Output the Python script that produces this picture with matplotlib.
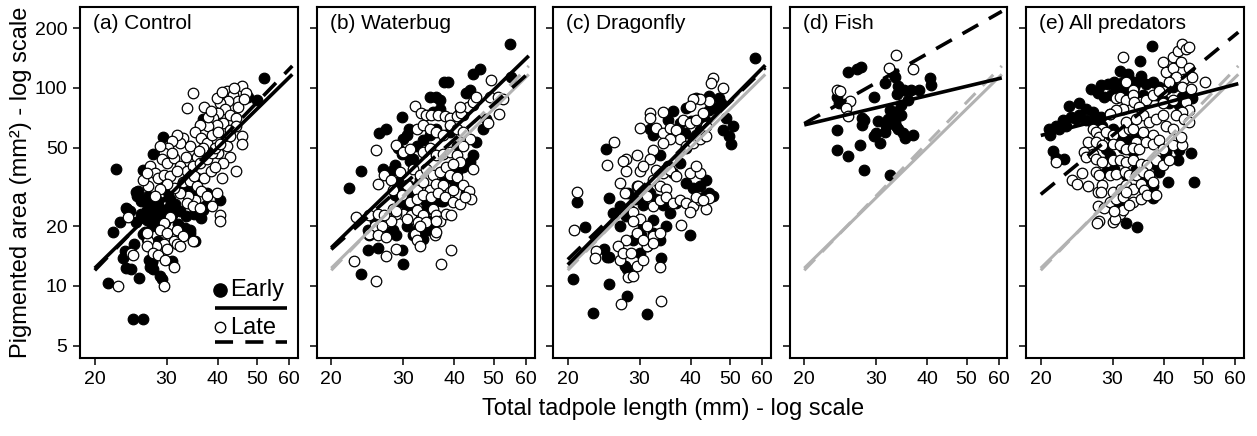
import numpy as np
import matplotlib
matplotlib.use("Agg")
import matplotlib.pyplot as plt
from matplotlib.ticker import NullLocator

plt.rcParams['font.family'] = ['Liberation Sans', 'DejaVu Sans']

# ---- data: (total length mm, pigmented area mm2) ----
control_early = [(22.6,39),(22.2,18.7),(21.5,10.3),(24.8,6.8),(26.3,6.8),(23.1,21),(24,24.5),(25.3,29.7),(26,27),
    (26.2,38.7),(27.8,46.5),(29.4,56.6),(36.9,70),(24,14.9),(23.9,12.3),(24.6,12.2),(25.7,11),(27.6,13.3),(27.8,12.2),
    (28.9,11.2),(29.2,10.8),(26.6,18.7),(26.8,17.2),(24.9,16.3),(30.9,13.3),(52,112),(47.5,90),(50,87),(40.6,27.3),
    (36.2,24.3),(34.2,19.2),(35.2,16.9),(36.5,22),(25.6,30),(25.4,28.5),(23.9,24.8),(24.4,23.8),(26.3,27.3),(26.8,24.3),
    (27.3,22.4),(28.1,23.3),(28.9,22),(26.8,21.6),(27.7,20),(28.5,20.8),(29.5,23.8),(30,22.4),(30.6,25.3),(31.4,26),
    (32.4,23.8),(33.3,19.7),(34.2,18.6),(26.3,18.4),(28.5,16.8),(23.7,15),(23.5,13.8),(27.1,13.6),(27.3,12.4),(27.6,13.2),
    (36.9,24.3),(37.2,25.3),(37.6,29.5),(29.5,31.5),(30.2,29.8),(32.4,31.5),(33.6,30.6),(34.9,28.6),(35.6,34.9),
    (27.5,25.5),(29,24.5),(28,21.5),(29.8,21),(31,22.8),(26,23),(25.2,21),(32,20.5),(33.5,22.5),(35,23),(30.5,27.5),
    (28.5,27),(27,28.5)]
control_late = [(34.9,94),(33.7,79),(42.1,96),(43.7,92.5),(46,102),(46.9,94),(45,86),(42.5,86),(40.6,84),(39.8,89),
    (41.7,78),(42.9,73),(44.5,70.5),(40.2,74.4),(39,70.5),(41.3,66.6),(42.9,61.6),(44.5,64),(39.8,65.3),(38,64),(46,57),
    (46,52),(44.5,38),(42.1,51),(42.9,45),(41.3,42),(40.2,47),(36.2,65),(35.2,60),(36.5,56),(37.6,52.7),(38.7,58),
    (36.9,50),(35.6,45),(34.2,51),(33,56),(32.4,52.7),(31.8,58),(30.9,53.7),(30.3,50),(29.5,47),(28.9,51),(29.2,43.5),
    (30,42),(31.2,44.3),(32.4,40.2),(33.6,38),(34.9,40.2),(36.2,42),(37.6,43.5),(38.7,47),(39.4,50),(40.6,51.8),
    (27.3,40.2),(28.1,37.3),(28.6,35.2),(29.5,36.5),(30.6,35.8),(31.8,38),(33,33.3),(34.2,33.8),(35.6,31.9),(36.5,30.1),
    (37.6,28.4),(35.2,27.3),(33.9,28.4),(32.4,29.5),(31.2,31.3),(30,32.6),(28.9,30.7),(28.1,28.4),(27,31.9),(26.3,34.4),
    (26.8,37.3),(33.6,26.3),(34.9,25.3),(36.2,24.8),(38.7,25.3),(39.8,29.5),(40.6,22.9),(40.6,21.2),(30.6,22.4),
    (29.5,20.8),(28.9,19.2),(30,18.5),(31.8,19.2),(33,17.8),(31.2,16.8),(29.5,16.2),(28.3,15.9),(27,16.8),(26.8,15.9),
    (26.8,18.5),(27.8,14.7),(28.6,14.4),(30,15.3),(31.8,16.2),(32.4,15.9),(34.9,16.8),(29.8,13.6),(31.2,12.5),(24.6,14.7),
    (22.8,10),(29.5,10),(24.1,22.4),(24.8,14.4),(35,36),(37,35),(38.5,38),(39.5,40),(41,35),(31,47),(33.5,45),(36,48),
    (38,71),(40,60),(43,57),(45,80),(37,80),(38.5,76),(41,95),(44,100),(46.5,88)]

waterbug_early = [(54.8,167),(55.1,114),(44.5,118),(46.2,125),(37.8,107),(38.7,107),(43.7,97),(42.9,94),(34.9,90),
    (36.2,90),(36.9,87),(29.9,71),(26.2,59),(27.3,62),(31,62),(30.6,58),(30,55),(29.2,50),(29.8,46.5),(30.9,45.8),
    (31.2,42.5),(31.8,44),(32.4,51),(33.6,54.5),(34.9,57.7),(36.2,62.3),(23.7,38),(22.1,31.3),(26.8,38.8),(27.6,36.2),
    (28.3,38.3),(29.2,33.5),(30,30.9),(30.9,32.2),(28.6,28.7),(29.5,26.5),(30.6,24.6),(31.8,28.7),(32.7,32.2),(33,34.8),
    (37.6,33.5),(39,35.2),(40.6,37.6),(42.1,39.9),(43.7,42.2),(44.5,45.7),(45.4,53.4),(47.1,62.3),(48,69.6),(40.2,32.2),
    (42.9,29.3),(37.6,27),(34.2,26.5),(35.6,26),(37.2,26.9),(34.2,24.1),(34.9,21.4),(30.6,20),(32.4,19.2),(33.6,19.2),
    (34.5,19.2),(35.6,20),(31.8,18),(33,17.6),(33.6,17.3),(28.3,19.2),(27.8,18.7),(28.9,18),(24.6,19.2),(25.6,21.4),
    (24.8,18),(24.6,15.2),(26.1,15.6),(29.8,15.2),(30,12.9),(23.7,11.5),(41.3,75.5),(44.5,81.7),(42.1,72.8),(35.6,75.5),
    (36.9,78.6),(39,60),(40.6,51),(28.6,41)]
waterbug_late = [(25.8,48.4),(32.1,81),(33.1,74.4),(34.2,73.3),(35.2,73.3),(36.5,73.3),(38,72.2),(39,70.7),(40.6,72.2),
    (41.7,74.4),(43.3,80),(44.5,85),(45.4,90),(41.3,80),(49.3,109),(48.9,90),(51.2,90),(52.7,88),(51.7,74.1),(48.4,66.2),
    (32.4,62.3),(33.6,64.8),(34.9,62.3),(36.2,60),(37.6,57.7),(39,64.8),(40.6,62.3),(42.1,60),(43.7,55.5),(44.6,39),
    (28.9,51.2),(30,47.5),(31.2,49.3),(33.6,47.5),(34.9,50),(36.2,45.8),(37.6,46.5),(39,47.5),(40.6,45.8),(42.1,51),
    (41.3,42.3),(27,36.2),(28.1,34.4),(29.5,37.6),(31.8,39.1),(33,36.2),(34.2,39.1),(35.6,36.2),(36.9,37.6),(38.3,39.9),
    (39.8,41.5),(39,36.2),(40.6,35.5),(26.1,32.8),(28.3,30.6),(30.6,32.2),(32.4,30.6),(33.6,33.6),(34.9,30.6),(36.2,32.8),
    (37.6,32.2),(39,29.8),(39.8,30.6),(42.1,32.2),(29.8,28.7),(31.2,26.5),(32.4,27.6),(33.6,28.7),(35.2,28.2),(36.5,29.3),
    (38,28.2),(39.8,26.5),(41.3,26),(43.6,30.1),(44.1,27.6),(42.5,28.2),(28.3,24.6),(30,23.2),(31.4,22.8),(32.4,24.1),
    (33.6,22.8),(35.6,24.6),(36.2,22.8),(36.9,21.4),(38.3,23.2),(39.4,22.8),(28.9,23.2),(28.1,21.4),(30.6,21.9),(32.7,21),
    (34.2,21),(23,22.3),(24.8,22.8),(26.1,23.2),(25.6,20),(26.6,20),(27,22.8),(28.9,24),(24.8,18.3),(26.1,18),(27.3,17.6),
    (28.9,15.4),(27.3,14.1),(32.1,18.3),(33,20),(36.1,21.2),(35.9,18),(36.2,18.7),(22.7,13.4),(25.8,10.6),(37.2,12.9),
    (39.4,15.2),(32.4,17),(33,16)]

dragonfly_early = [(57.4,142),(20.6,10.9),(23,7.3),(25.2,10.2),(31.3,7.2),(28,8.9),(22,19.8),(21.1,26.5),(24.6,15.3),
    (25.3,14),(24.9,14),(27.6,12.6),(27.9,12.2),(33.9,13.8),(39.8,18),(24.8,49.2),(25.3,27.9),(25.8,23.4),(26.8,20),
    (27.8,22.5),(28.9,17.1),(30,14.7),(31.2,15.9),(32.4,18.5),(33.6,17.1),(34.9,20),(28.1,29.4),(29.2,27.4),(30.6,25.5),
    (31.8,29.4),(33,27.4),(34.2,25.5),(29.5,31.8),(31.2,30.7),(31.9,62),(32.4,58.1),(36.2,76.2),(35.2,69.2),(39,49.5),
    (40.6,54.9),(41.3,57.7),(33.6,46),(35.2,40.3),(36.2,37.1),(37.6,41.7),(39,33.1),(40.6,31.3),(42.1,32),(43.7,34.4),
    (44.5,29.4),(45.4,28.4),(43.3,28.4),(39,79.2),(41.3,89),(44.5,90.8),(47.1,89),(47.6,84),(48.9,70.5),(48,61.6),
    (49.8,57),(50.3,52),(50.8,64),(37.6,66.6),(38.7,59.3),(40.2,67.9),(42.1,61.6),(43.3,69.2),(44.5,77.7),(46.2,79.2),
    (30,28.4),(30.6,20),(30.3,18),(32.4,21.6),(28.3,24.4),(26.8,25.3),(27.6,23.7),(35.6,23.4),(36.9,26.2)]
dragonfly_late = [(20.7,19.1),(21.1,29.8),(26,53.4),(24.9,41),(23.4,15),(23.3,13.8),(27,8.1),(28.1,11.1),(33.9,8.4),
    (33.6,12.4),(45.4,112),(45,106),(48,100),(44.5,85.7),(42.1,87.4),(40.6,87.4),(39.8,80.8),(31.8,74.7),(31.8,70.5),
    (34.2,75.4),(30,62.7),(33,62.7),(34.2,59.3),(35.6,62.7),(36.9,61.6),(38.3,69),(39.8,66.6),(41.3,69),(42.9,74.7),
    (43.7,64),(37.6,54.9),(39,50.8),(40.6,52.8),(42.1,54.9),(43.7,57),(35.6,54.9),(34.2,52.8),(27.8,43.5),(27.8,38),
    (30,38),(32.4,48.7),(31.8,43.5),(30.6,40.3),(33,38.7),(34.2,37.2),(35.6,38.7),(36.9,35.8),(32.4,34.4),(33.6,31.9),
    (34.9,30.7),(39.8,37.2),(42.1,37.2),(41.3,40.3),(26.8,33),(29.8,31.9),(31.2,28.6),(32.4,25.3),(33.6,27.1),(34.9,28.1),
    (36.2,26.2),(37.6,27.1),(39,26.2),(40.6,25.3),(42.1,27.1),(41.3,28.1),(39.8,23.7),(38,20.4),(27.6,29.4),(28.9,23.7),
    (30,21.7),(31.2,20),(32.4,17.8),(33.6,18.5),(28.9,21.2),(29.5,18.5),(27.8,17.1),(26.6,15.9),(26.8,13.6),(27.3,14.7),
    (28.6,14.7),(29.5,12.6),(31.2,15.9),(32.4,16.5),(30.6,17.1),(28.9,11.2),(30.6,13.6),(44.5,27.9),(43.7,24.4),
    (42.9,27.1),(27.3,42.6),(29.5,46)]

fish_early = [(24.1,61),(24.1,48.4),(25.6,45.5),(27.4,51.2),(28.1,38.4),(32.5,36.5),(25.6,120),(27,125),(27.6,127),
    (29.6,90),(31.5,106),(27.7,70.5),(28.1,69),(27.7,65.3),(30.3,67.8),(30,59.2),(30.6,52.7),(29.7,57),(31.5,59.8),
    (32.5,77.7),(33,73.3),(33.3,67.8),(34.6,73.3),(33.9,76.2),(35,59.2),(35.3,55.9),(37,58.1),(33,119),(33.3,114),
    (34,102.7),(35.2,98),(35.9,87.3),(36.6,98),(38.3,98),(40.6,112),(41,103),(33.5,64),(34,62),(32,70),(31.8,64),
    (34.5,82),(33.7,93),(24,90),(24.3,84)]
fish_late = [(24.1,98),(25.9,85.6),(25.3,79),(25.6,72),(32.2,126),(33.5,147),(37,124),(24.5,96)]

allpred_early = [(37.4,163),(35,136),(31.2,121),(32.7,118),(35.2,115),(34.5,107),(28.1,103),(29.2,105),(30.3,107),
    (31.8,107),(33,111),(30.6,97),(32.4,97),(33.9,101),(36.2,105),(37.6,107),(39,101),(40.6,99),(42.1,101),(26.5,99),
    (27.6,94),(28.6,90),(29.8,92),(31.2,92),(35.6,92),(36.5,88.5),(38.3,92),(39.8,87),(41.3,83.4),(43.7,82),(46.2,96),
    (44.5,90),(47.1,88.5),(23.4,81),(24.8,83.4),(25.8,78.6),(26.8,75.6),(28.1,71.4),(29.5,74.1),(24.8,72.8),(23.7,71.4),
    (22.7,68.7),(21.8,64.5),(20.9,62.3),(21.1,57.7),(22.2,62.3),(23.1,64.5),(24.4,70),(25.8,68.8),(26.8,66.2),(28.3,64.5),
    (27.3,71.4),(21.4,47.8),(21.8,44.3),(22.8,44),(29.5,45.8),(28.9,49.3),(29.5,57.7),(30.9,58.6),(30,62.3),(32.4,55.5),
    (34.2,57.7),(31.8,50),(33.6,47.5),(28.9,37.6),(30.3,39.1),(32.4,36.2),(34.2,39.1),(36.2,34.8),(38.3,40.7),(39.8,43.2),
    (39,37.6),(40.6,47.5),(43.7,48.4),(46.6,46.8),(43.3,43.2),(30.9,25.5),(30.6,24.6),(37.7,31.8),(37.7,27.9),(41.1,33.4),
    (47.5,33.4),(32.4,20.8),(34.4,19.9)]
allpred_late = [(31.8,143),(39.8,135),(42.1,143),(43.3,154),(44.5,167),(45.4,158),(46.2,161),(40.6,120),(42.1,126),
    (44.1,135),(46.2,126),(45,111),(42.9,114),(47.1,114),(44.5,101),(46.6,99),(50.6,107),(41.3,107),(39.8,96.4),(32.4,107),
    (33.6,97),(35.2,85),(36.2,86.6),(37.6,92),(39,96.4),(39.8,83.4),(42.1,86.6),(45.4,85),(46.2,77),(44.5,75.6),(42.9,72.8),
    (44.8,70),(46.2,67.4),(30.6,88.5),(31.2,90),(32.4,86.6),(33.6,92),(33.9,85),(34.9,80),(31.8,78.6),(30.6,77),(29.5,74.1),
    (28.3,62.3),(26.8,62.3),(27.3,60),(27.8,56.6),(26.1,53.4),(28.9,60),(30,57.7),(31.8,60),(33,62.3),(32.4,67.4),
    (35.6,72.8),(36.9,67.4),(38.3,70),(39.8,72.8),(40.6,64.5),(42.1,62.3),(37.6,57.7),(35.6,60),(34.2,53.4),(33.6,62.3),
    (34.2,70),(25.6,47.5),(25.8,44.9),(26.8,46.4),(27.3,53.4),(28.3,51.2),(30,52.3),(31.2,51.2),(32.4,49.3),(33.6,50),
    (34.9,49.3),(36.2,53.4),(37.6,52.3),(39,54.6),(39.8,49.3),(42.1,51.2),(44.5,51.2),(44.1,56.6),(27.3,44),(28.3,42.2),
    (30,43),(31.2,43),(32.4,42.2),(33.6,43),(35.2,41.4),(36.5,40.7),(38.3,43),(39.8,40.7),(41.3,43),(25.3,37.2),(27.3,37.6),
    (27.8,36.2),(29.5,36.2),(30.6,36.9),(32.1,37.6),(33,36.2),(34.2,36.2),(35.6,37.6),(36.9,36.2),(23.9,34.4),(24.5,32.8),
    (26.1,31.9),(27.6,29.8),(28.3,32.2),(30,29.8),(31.4,30.9),(32.4,32.2),(33.6,30.9),(35.2,32.8),(35.9,30.6),(37.6,33.5),
    (27.6,25.2),(28.6,24.8),(29.5,26.5),(30.6,27.6),(31.8,28.2),(32.4,29.8),(33.6,26.5),(35.2,27.6),(36.5,28.7),(38.3,28.7),
    (28.1,29.8),(31.2,23.2),(31.8,24.1),(33,25.5),(30,21.1),(30.4,21.9),(27.8,21.4),(30.3,23.8),(27.4,20.8),(21.8,42.2)]

titles = ['(a) Control', '(b) Waterbug', '(c) Dragonfly', '(d) Fish', '(e) All predators']
early_sets = [control_early, waterbug_early, dragonfly_early, fish_early, allpred_early]
late_sets = [control_late, waterbug_late, dragonfly_late, fish_late, allpred_late]

# fitted log-log lines: (area at 20 mm, slope)
fit_early = [(12.3, 2.02), (15.6, 2.00), (12.8, 2.08), (65.0, 0.49), (57.5, 0.54)]
fit_late = [(12.0, 2.13), (15.3, 1.84), (13.6, 2.00), (66.0, 1.17), (29.0, 1.69)]
line_x = np.array([20.0, 61.0])

x_ticks = [20, 30, 40, 50, 60]
y_ticks = [5, 10, 20, 50, 100, 200]

DASH = (5, 3.4)
GRAY = '#b2b2b2'
MS = 7.6


def fit_line(ax, fit, color, dashed, lw):
    y20, slope = fit
    ls = (0, DASH) if dashed else '-'
    ax.plot(line_x, y20 * (line_x / 20.0) ** slope, color=color, lw=lw,
            linestyle=ls, solid_capstyle='butt', dash_capstyle='butt', zorder=3)


fig = plt.figure(figsize=(12.57, 4.36), dpi=100)
left0, step, width = 80 / 1257, 236.5 / 1257, 218 / 1257
bottom, height = 78 / 436, 351 / 436

for i in range(5):
    ax = fig.add_axes([left0 + i * step, bottom, width, height])
    ax.set_xscale('log')
    ax.set_yscale('log')

    ex, ey = zip(*early_sets[i])
    lx, ly = zip(*late_sets[i])
    ax.plot(ex, ey, 'o', ms=MS, mfc='black', mec='black', mew=0.9, zorder=2)
    ax.plot(lx, ly, 'o', ms=MS, mfc='white', mec='black', mew=0.9, zorder=2)

    if i > 0:
        fit_line(ax, fit_early[0], GRAY, False, 2.2)
        fit_line(ax, fit_late[0], GRAY, True, 2.2)
    fit_line(ax, fit_early[i], 'black', False, 2.6)
    fit_line(ax, fit_late[i], 'black', True, 2.6)

    ax.set_xlim(18.4, 63)
    ax.set_ylim(4.33, 256)
    ax.set_xticks(x_ticks)
    ax.set_xticklabels([str(t) for t in x_ticks])
    ax.set_yticks(y_ticks)
    ax.set_yticklabels([str(t) for t in y_ticks] if i == 0 else [])
    ax.xaxis.set_minor_locator(NullLocator())
    ax.yaxis.set_minor_locator(NullLocator())
    ax.tick_params(direction='out', length=5, width=1.1, labelsize=14, pad=4)
    for sp in ax.spines.values():
        sp.set_linewidth(1.5)

    ax.text(0.06, 0.952, titles[i], transform=ax.transAxes, fontsize=15,
            ha='left', va='center')

    if i == 0:
        tr = ax.transAxes
        ax.plot([0.64], [0.193], 'o', ms=9.5, mfc='black', mec='black', transform=tr)
        ax.text(0.69, 0.193, 'Early', transform=tr, fontsize=17, va='center')
        ax.plot([0.62, 0.95], [0.142, 0.142], color='black', lw=2.6, transform=tr,
                solid_capstyle='butt')
        ax.plot([0.64], [0.088], 'o', ms=7.5, mfc='white', mec='black', mew=1, transform=tr)
        ax.text(0.69, 0.085, 'Late', transform=tr, fontsize=17, va='center')
        ax.plot([0.62, 0.95], [0.046, 0.046], color='black', lw=2.6, transform=tr,
                linestyle=(0, DASH), dash_capstyle='butt')

fig.text(21 / 1257, 0.581, 'Pigmented area (mm²) - log scale', rotation=90,
         fontsize=17, ha='center', va='center')
fig.text(673 / 1257, 0.062, 'Total tadpole length (mm) - log scale',
         fontsize=17, ha='center', va='center')

fig.savefig('out.png', dpi=100)
